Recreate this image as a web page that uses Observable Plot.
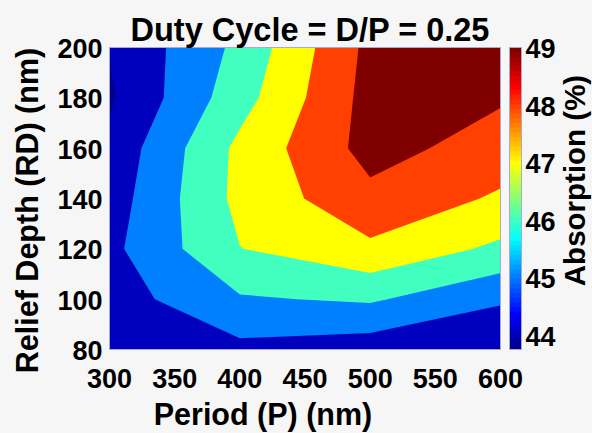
<!DOCTYPE html>
<html>
<head>
<meta charset="utf-8">
<script src="https://cdn.jsdelivr.net/npm/d3@7"></script>
<script src="https://cdn.jsdelivr.net/npm/@observablehq/plot@0.6"></script>
<style>
  html, body { margin: 0; padding: 0; background: #f6f6f6; }
  #chart { position: relative; width: 592px; height: 433px; overflow: hidden; }
  #chart svg { position: absolute; top: 0; }
</style>
</head>
<body>
<div id="chart"></div>
<script>
// ---- data ----
const period = [300, 400, 500, 600];                  // nm (grid columns)
const reliefDepth = [80, 100, 120, 140, 160, 180, 200]; // nm (grid rows)
// absorption (%) per relief-depth row, one value per period
const absRD80  = [44.30, 44.74, 44.45, 43.95];
const absRD100 = [44.52, 45.90, 46.13, 45.15];
const absRD120 = [44.75, 46.98, 47.80, 46.79];
const absRD140 = [44.50, 47.28, 48.74, 47.86];
const absRD160 = [44.27, 47.25, 49.36, 48.57];
const absRD180 = [43.86, 46.60, 49.36, 49.11];
const absRD200 = [44.04, 46.25, 49.27, 49.35];

const contourLevels = [43.75, 44, 45, 46, 47, 48, 49];
const colorLimits = [43.75, 49];
const colorbarTicks = [44, 45, 46, 47, 48, 49];
const xTicks = [300, 350, 400, 450, 500, 550, 600];
const yTicks = [80, 100, 120, 140, 160, 180, 200];
const titleText = "Duty Cycle = D/P = 0.25";
const xLabel = "Period (P) (nm)";
const yLabel = "Relief Depth (RD) (nm)";
const cLabel = "Absorption (%)";

// MATLAB jet(64) colormap, indexed like MATLAB does
function jet(t) {
  const i = Math.min(63, Math.max(0, Math.floor(t * 64)));
  const n = i + 1;
  const r = n <= 24 ? 0 : n <= 40 ? (n - 24) / 16 : n <= 56 ? 1 : 1 - (n - 56) / 16;
  const g = n <= 8 ? 0 : n <= 24 ? (n - 8) / 16 : n <= 40 ? 1 : n <= 56 ? 1 - (n - 40) / 16 : 0;
  const b = n <= 8 ? 0.5 + n / 16 : n <= 24 ? 1 : n <= 40 ? 1 - (n - 24) / 16 : 0;
  return `rgb(${Math.round(r * 255)},${Math.round(g * 255)},${Math.round(b * 255)})`;
}

const grid = [absRD80, absRD100, absRD120, absRD140, absRD160, absRD180, absRD200].flat();
const dP = period[1] - period[0];
const dR = reliefDepth[1] - reliefDepth[0];
const font = '"Liberation Sans", Arial, Helvetica, sans-serif';
const colorOpts = {type: "linear", domain: colorLimits, interpolate: jet};
const boxColor = "#a9a9d2";
const tickFont = 27;
const labelFont = 30.5;

const main = Plot.plot({
  width: 592, height: 433,
  marginLeft: 109, marginRight: 92, marginTop: 47, marginBottom: 84,
  style: {background: "transparent", fontFamily: font, color: "black"},
  x: {domain: [period[0], period[period.length - 1]]},
  y: {domain: [reliefDepth[0], reliefDepth[reliefDepth.length - 1]]},
  color: colorOpts,
  marks: [
    Plot.contour(grid, {
      width: period.length, height: reliefDepth.length,
      x1: period[0] - dP / 2, x2: period[period.length - 1] + dP / 2,
      y1: reliefDepth[0] - dR / 2, y2: reliefDepth[reliefDepth.length - 1] + dR / 2,
      thresholds: contourLevels, fill: Plot.identity, stroke: "none", clip: true
    }),
    Plot.frame({stroke: boxColor}),
    Plot.axisX({ticks: xTicks, tickFormat: "d", tickSize: 0, tickPadding: 19, fontSize: tickFont, fontWeight: "bold", label: null}),
    Plot.axisY({ticks: yTicks, tickFormat: "d", tickSize: 0, tickPadding: 7, fontSize: tickFont, fontWeight: "bold", label: null, dy: 2}),
    Plot.text([titleText], {frameAnchor: "top", textAnchor: "middle", lineAnchor: "middle", dx: 5, dy: -17, fontSize: 32.5, fontWeight: "bold"}),
    Plot.text([xLabel], {frameAnchor: "bottom", textAnchor: "middle", lineAnchor: "middle", dx: -42, dy: 66, fontSize: labelFont, fontWeight: "bold"}),
    Plot.text([yLabel], {frameAnchor: "left", textAnchor: "middle", lineAnchor: "middle", rotate: -90, dx: -81, dy: 12, fontSize: labelFont, fontWeight: "bold"})
  ]
});
main.style.left = "0px";
document.getElementById("chart").appendChild(main);

const bar = Plot.plot({
  width: 83, height: 433,
  marginLeft: 0, marginRight: 71, marginTop: 47, marginBottom: 84,
  style: {background: "transparent", fontFamily: font, color: "black"},
  x: {domain: [0, 1], axis: null},
  y: {domain: colorLimits, axis: null},
  color: colorOpts,
  marks: [
    Plot.raster({fill: (x, y) => y, x1: 0, x2: 1, y1: colorLimits[0], y2: colorLimits[1], width: 1, height: 256}),
    Plot.frame({stroke: boxColor}),
    Plot.axisY({anchor: "right", ticks: colorbarTicks, tickFormat: "d", tickSize: 0, tickPadding: 4, fontSize: tickFont, fontWeight: "bold", label: null, dy: 2}),
    Plot.text([cLabel], {frameAnchor: "right", textAnchor: "middle", lineAnchor: "middle", rotate: -90, dx: 54, dy: -18, fontSize: 29.5, fontWeight: "bold"})
  ]
});
bar.style.left = "509px";
document.getElementById("chart").appendChild(bar);
</script>
</body>
</html>
